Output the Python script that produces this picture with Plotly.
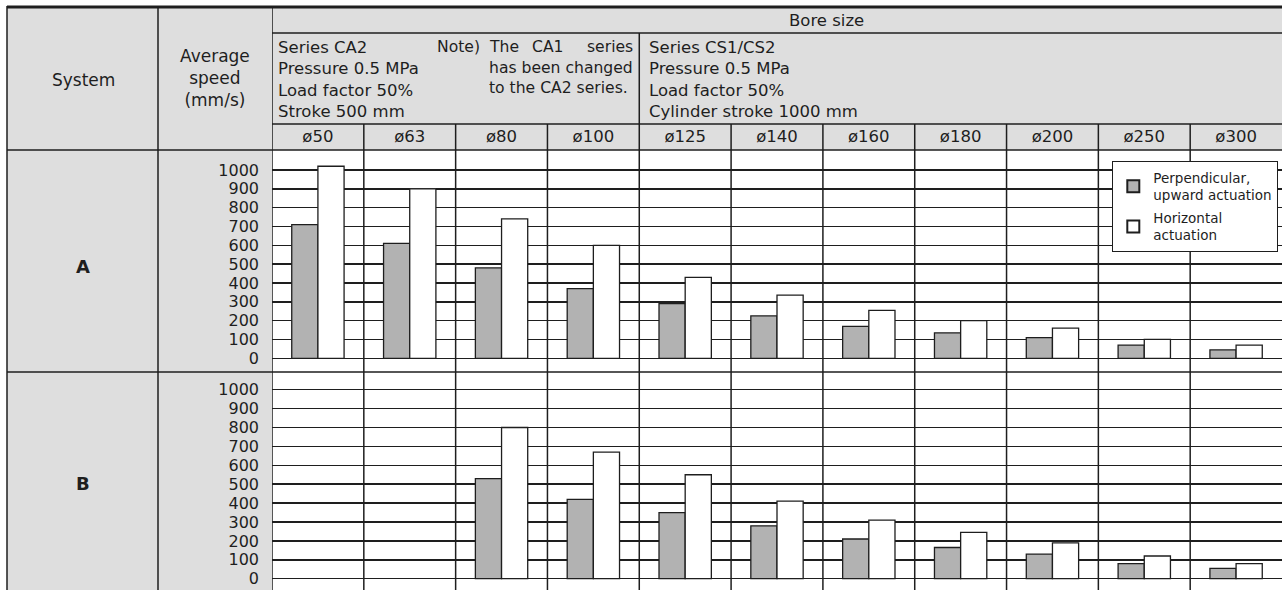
import plotly.graph_objects as go

# ---------------- data ----------------
bores = ["ø50", "ø63", "ø80", "ø100", "ø125", "ø140", "ø160", "ø180", "ø200", "ø250", "ø300"]
a_perpendicular = [710, 610, 480, 370, 290, 225, 170, 135, 110, 70, 45]
a_horizontal = [1020, 900, 740, 600, 430, 335, 255, 200, 160, 100, 70]
b_perpendicular = [None, None, 530, 420, 350, 280, 210, 165, 130, 80, 55]
b_horizontal = [None, None, 800, 670, 550, 410, 310, 245, 190, 120, 80]
speed_ticks = [0, 100, 200, 300, 400, 500, 600, 700, 800, 900, 1000]
systems = ["A", "B"]
name_perp = "Perpendicular,<br>upward actuation"
name_horiz = "Horizontal<br>actuation"

# ---------------- layout constants ----------------
W, H = 1282, 590
FONT = "DejaVu Sans"
INK = "#1e1e1e"
HEADER_BG = "#dedede"
BAR_GREY = "#b2b2b2"


def px(x):
    return x / W


def py(y):
    return 1 - y / H


fig = go.Figure()

for i, (perp, horiz) in enumerate([(a_perpendicular, a_horizontal), (b_perpendicular, b_horizontal)]):
    xa = "x" if i == 0 else "x2"
    ya = "y" if i == 0 else "y2"
    fig.add_trace(go.Bar(x=bores, y=perp, name=name_perp, legendgroup="p", showlegend=(i == 0),
                         marker=dict(color=BAR_GREY, line=dict(color=INK, width=1.3)),
                         xaxis=xa, yaxis=ya))
    fig.add_trace(go.Bar(x=bores, y=horiz, name=name_horiz, legendgroup="h", showlegend=(i == 0),
                         marker=dict(color="white", line=dict(color=INK, width=1.3)),
                         xaxis=xa, yaxis=ya))

x_dom = [px(272), 1.0]
ncat = len(bores)
common_x = dict(type="category", range=[-0.5, ncat - 0.5], domain=x_dom, showgrid=False,
                zeroline=False, showline=False, ticks="", fixedrange=True)
common_y = dict(tickvals=speed_ticks, showgrid=True, gridcolor=INK, gridwidth=1.5,
                zeroline=False, showline=False, ticks="", ticklabelstandoff=12,
                tickfont=dict(family=FONT, size=16, color=INK), fixedrange=True)

fig.update_layout(
    width=W, height=H,
    margin=dict(l=0, r=0, t=0, b=0),
    paper_bgcolor="white", plot_bgcolor="white",
    barmode="group", bargap=0.43, bargroupgap=0,
    font=dict(family=FONT, color=INK),
    xaxis=dict(**common_x, anchor="y", side="top", showticklabels=True, ticklabelstandoff=4,
               tickfont=dict(family=FONT, size=16.5, color=INK)),
    xaxis2=dict(**common_x, anchor="y2", showticklabels=False),
    yaxis=dict(**common_y, domain=[py(372), py(150)], range=[-72.8, 1106.2], anchor="x"),
    yaxis2=dict(**common_y, domain=[0, py(372)], range=[-59.8, 1093.7], anchor="x2"),
    legend=dict(x=px(1112), y=py(161), xanchor="left", yanchor="top",
                bgcolor="white", bordercolor=INK, borderwidth=1.3,
                font=dict(family=FONT, size=13.5, color=INK), tracegroupgap=2,
                itemsizing="constant"),
    showlegend=True,
)

shapes = []
# grey backgrounds
shapes.append(dict(type="rect", xref="paper", yref="paper", x0=px(7), x1=1, y0=py(150), y1=py(7),
                   fillcolor=HEADER_BG, line=dict(width=0), layer="below"))
shapes.append(dict(type="rect", xref="paper", yref="paper", x0=px(7), x1=px(272), y0=0, y1=py(150),
                   fillcolor=HEADER_BG, line=dict(width=0), layer="below"))


def hline(y, x0, x1, w=1.5):
    shapes.append(dict(type="line", xref="paper", yref="paper", x0=px(x0), x1=px(x1), y0=py(y), y1=py(y),
                       line=dict(color=INK, width=w), layer="above"))


def vline(x, y0, y1, w=1.5):
    shapes.append(dict(type="line", xref="paper", yref="paper", x0=px(x), x1=px(x), y0=py(y0), y1=py(y1),
                       line=dict(color=INK, width=w), layer="above"))


hline(7, 7, W, 3)
hline(33, 272, W)
hline(124, 272, W)
hline(150, 7, W)
hline(372, 7, W)
vline(7, 6, H)
vline(158, 7, H)

# column dividers (on the category axis)
for k in range(ncat):
    top = 7 if k == 0 else (33 if bores[k] == "ø125" else 124)
    shapes.append(dict(type="line", xref="x", yref="paper", x0=k - 0.5, x1=k - 0.5,
                       y0=0, y1=py(top), line=dict(color=INK, width=1.5), layer="above"))

fig.update_layout(shapes=shapes)

ann = []


def text(t, x, y, xanchor="center", size=16.5, bold=False, align="left"):
    ann.append(dict(text=("<b>%s</b>" % t) if bold else t, x=px(x), y=py(y), xref="paper", yref="paper",
                    xanchor=xanchor, yanchor="middle", showarrow=False, align=align,
                    font=dict(family=FONT, size=size, color=INK)))


NOTE = 15.6
text("Bore size", 826, 20)
text("Series CA2<br>Pressure 0.5 MPa<br>Load factor 50%<br>Stroke 500 mm", 276, 79, "left")
text("Note)", 435, 47, "left", size=NOTE)
text("The", 487, 47, "left", size=NOTE)
text("CA1", 547, 47, "center", size=NOTE)
text("series", 635, 47, "right", size=NOTE)
text("has been changed<br>to the CA2 series.", 487, 78, "left", size=NOTE)
text("Series CS1/CS2<br>Pressure 0.5 MPa<br>Load factor 50%<br>Cylinder stroke 1000 mm", 647, 79, "left")
text("System", 83, 80, size=17)
text("Average<br>speed<br>(mm/s)", 215, 78, size=17, align="center")
text(systems[0], 83, 266, size=18, bold=True)
text(systems[1], 83, 483, size=18, bold=True)

fig.update_layout(annotations=ann)

fig.write_html("out.html", config={"displayModeBar": False, "staticPlot": True},
               post_script="document.body.style.margin='0';document.body.style.padding='0';document.body.style.overflow='hidden';")
